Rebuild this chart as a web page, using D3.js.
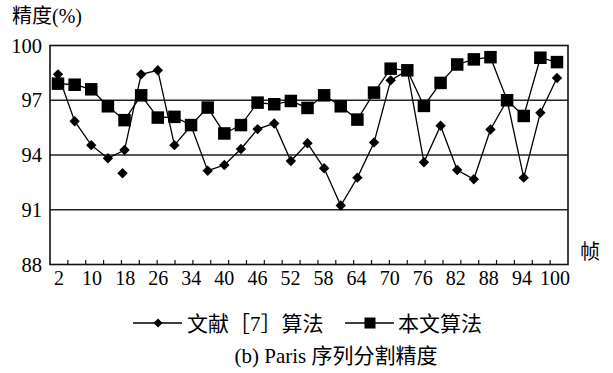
<!DOCTYPE html>
<html><head><meta charset="utf-8">
<script src="https://cdn.jsdelivr.net/npm/d3@7"></script>
<style>
body{margin:0;background:#fff}
svg{display:block}
text{font-family:"Liberation Serif","Times New Roman","Noto Sans CJK SC",serif;fill:#000}
.cjk{font-family:"Liberation Serif","Noto Sans CJK SC",serif}
</style>
</head><body>
<svg id="c" width="613" height="373"></svg>
<script>
// ---- data ----
const seriesNames = ["文献［7］算法", "本文算法"];
const seriesA = [98.42,95.85,94.54,93.82,94.27,98.42,98.64,94.54,95.6,93.14,93.45,94.33,95.42,95.73,93.67,94.64,
                 93.27,91.23,92.76,94.69,98.09,98.64,93.6,95.6,93.18,92.67,95.4,97.0,92.76,96.31,98.22];
const seriesB = [97.91,97.85,97.6,96.67,95.91,97.27,96.05,96.09,95.64,96.6,95.18,95.64,96.87,96.78,96.96,96.58,
                 97.27,96.67,95.94,97.42,98.73,98.64,96.69,97.95,98.96,99.24,99.36,97.0,96.14,99.33,99.09];
const strayIndexA = [4];
const strayValueA = [93.0];
const xTickLabels = ["2","10","18","26","34","40","46","52","58","64","70","76","82","88","94","100"];
const yTicks = [88,91,94,97,100];
const yTitle = "精度(%)";
const xTitle = "帧";
const caption = "(b) Paris 序列分割精度";

// ---- layout ----
const L = 50, R = 568, T = 45.5, B = 264.5;
const svg = d3.select("#c");
const idx = d3.range(seriesA.length);
const x = d3.scalePoint().domain(idx).range([58, 557]);
const y = d3.scaleLinear().domain([88, 100]).range([B, T]);
const xl = d3.scalePoint().domain(xTickLabels).range([59, 555]);
const tickPos = d3.scaleLinear().domain([0, 29]).range([L, R]);

// gridlines
svg.append("g").selectAll("line").data(yTicks.filter(d => d > 88 && d < 100)).join("line")
  .attr("x1", L).attr("x2", R).attr("y1", d => y(d)).attr("y2", d => y(d))
  .attr("stroke", "#222").attr("stroke-width", 1.4);

// frame
svg.append("rect").attr("x", L).attr("y", T).attr("width", R - L).attr("height", B - T)
  .attr("fill", "none").attr("stroke", "#111").attr("stroke-width", 1.6);

// x ticks (inside)
svg.append("g").selectAll("line").data(d3.range(1, 29)).join("line")
  .attr("x1", d => tickPos(d)).attr("x2", d => tickPos(d))
  .attr("y1", B).attr("y2", B - 4.5).attr("stroke", "#111").attr("stroke-width", 1.2);

// y labels
svg.append("g").selectAll("text").data(yTicks).join("text")
  .attr("x", 42).attr("y", d => y(d)).attr("dy", "0.35em")
  .attr("text-anchor", "end").attr("font-size", 20.5).text(d => d);

// x labels
svg.append("g").selectAll("text").data(xTickLabels).join("text")
  .attr("x", d => xl(d)).attr("y", 285)
  .attr("text-anchor", "middle").attr("font-size", 20).text(d => d);

// axis titles
svg.append("text").attr("class", "cjk").attr("x", 12).attr("y", 23).attr("font-size", 20).text(yTitle);
svg.append("text").attr("class", "cjk").attr("x", 580).attr("y", 259).attr("font-size", 20).text(xTitle);

// lines
const line = d3.line().x((d, i) => x(i)).y(d => y(d));
svg.append("path").datum(seriesA).attr("d", line).attr("fill", "none").attr("stroke", "#000").attr("stroke-width", 1.3);
svg.append("path").datum(seriesB).attr("d", line).attr("fill", "none").attr("stroke", "#000").attr("stroke-width", 1.3);

const diamond = (cx, cy, r) => `M${cx},${cy - r}L${cx + r},${cy}L${cx},${cy + r}L${cx - r},${cy}Z`;
svg.append("g").selectAll("path").data(seriesA).join("path")
  .attr("d", (d, i) => diamond(x(i), y(d), 5.2)).attr("fill", "#000");
svg.append("g").selectAll("path").data(strayIndexA).join("path")
  .attr("d", (d, k) => diamond(x(d) - 2, y(strayValueA[k]), 5.2)).attr("fill", "#000");
const s = 12.5;
svg.append("g").selectAll("rect").data(seriesB).join("rect")
  .attr("x", (d, i) => x(i) - s / 2).attr("y", d => y(d) - s / 2)
  .attr("width", s).attr("height", s).attr("fill", "#000");

// legend
const lg = svg.append("g");
const ly = 323;
lg.append("line").attr("x1", 133).attr("x2", 182).attr("y1", ly).attr("y2", ly).attr("stroke", "#000").attr("stroke-width", 1.3);
lg.append("path").attr("d", diamond(158, ly, 4.5)).attr("fill", "#000");
lg.append("text").attr("class", "cjk").attr("x", 187).attr("y", ly).attr("dy", "0.36em").attr("font-size", 21).text(seriesNames[0]);
lg.append("line").attr("x1", 345).attr("x2", 394).attr("y1", ly).attr("y2", ly).attr("stroke", "#000").attr("stroke-width", 1.3);
lg.append("rect").attr("x", 370 - 5.5).attr("y", ly - 5.5).attr("width", 11).attr("height", 11).attr("fill", "#000");
lg.append("text").attr("class", "cjk").attr("x", 398).attr("y", ly).attr("dy", "0.36em").attr("font-size", 21).text(seriesNames[1]);

// caption
svg.append("text").attr("class", "cjk").attr("x", 336).attr("y", 355).attr("dy", "0.36em")
  .attr("text-anchor", "middle").attr("font-size", 21).text(caption);
</script>
</body></html>
